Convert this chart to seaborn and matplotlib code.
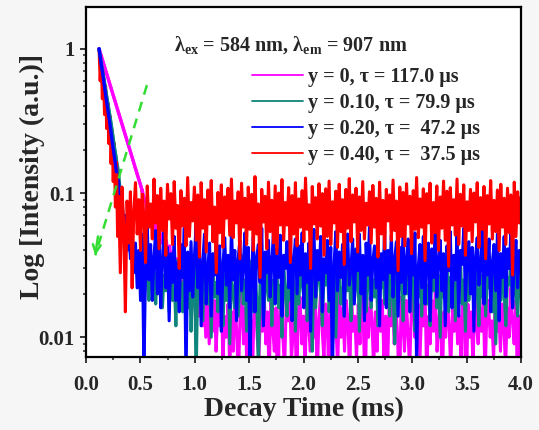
import numpy as np
import pandas as pd
import matplotlib
matplotlib.use("Agg")
import matplotlib.pyplot as plt
from matplotlib.ticker import MultipleLocator, LogLocator, NullFormatter, FixedFormatter, FixedLocator
import seaborn as sns

# ---- data (intensity in units of 1e-3 for the noisy tails) ----
labels = ["y = 0, τ = 117.0 μs",
          "y = 0.10, τ = 79.9 μs",
          "y = 0.20, τ =  47.2 μs",
          "y = 0.40, τ =  37.5 μs"]
colors = ["#ff00ff", "#10857d", "#0000ff", "#ff0000"]

# fast decay parts (time in ms, normalised intensity)
magenta_head_t = [0.12, 0.16, 0.20, 0.24, 0.28, 0.32, 0.36, 0.40, 0.44, 0.48, 0.52]
magenta_head_i = [1.0, 0.796, 0.634, 0.505, 0.402, 0.320, 0.255, 0.203, 0.161, 0.128, 0.102]
teal_head_t = [0.12, 0.14, 0.16, 0.18, 0.20, 0.22, 0.24, 0.26, 0.28]
teal_head_i = [1.0, 0.80, 0.65, 0.52, 0.42, 0.34, 0.27, 0.21, 0.17]
blue_head_t = [0.12, 0.14, 0.16, 0.18, 0.20, 0.22, 0.24, 0.26, 0.28]
blue_head_i = [1.0, 0.78, 0.62, 0.48, 0.38, 0.30, 0.23, 0.18, 0.14]
red_head_t = [0.12, 0.13, 0.14, 0.15, 0.16, 0.17, 0.18, 0.19, 0.20,
              0.21, 0.22, 0.23, 0.24, 0.25, 0.26, 0.27, 0.28, 0.29]
red_head_i = [1.0, 0.6, 0.85, 0.45, 0.7, 0.35, 0.55, 0.28, 0.42,
              0.22, 0.34, 0.16, 0.27, 0.12, 0.22, 0.08, 0.17, 0.05]

# background-level tails, 0.30 -> 4.0 ms (magenta 0.55 -> 4.0 ms)
red_tail_milli = [
    95, 28, 110, 60, 15, 88, 45, 102, 22, 75,
    118, 52, 90, 40, 105, 68, 33, 112, 58, 84,
    48, 125, 62, 96, 41, 108, 55, 88, 37, 115,
    66, 99, 44, 120, 57, 82, 30, 104, 59, 92,
    43, 128, 50, 86, 64, 110, 47, 97, 36, 118,
    57, 90, 39, 105, 61, 122, 46, 80, 28, 101,
    53, 114, 42, 94, 67, 108, 51, 125, 49, 88,
    62, 102, 35, 117, 58, 92, 44, 110, 56, 98,
    40, 130, 52, 84, 26, 106, 63, 95, 41, 119,
    54, 89, 45, 112, 38, 100, 60, 124, 47, 86,
    60, 109, 33, 96, 52, 118, 43, 91, 58, 104,
    46, 127, 56, 83, 30, 111, 61, 93, 48, 116,
    59, 99, 37, 107, 50, 121, 44, 87, 62, 103,
    42, 115, 54, 90, 32, 106, 57, 126, 46, 97,
    63, 108, 39, 94, 55, 120, 48, 85, 60, 102,
    45, 113, 58, 92, 36, 119, 52, 89, 41, 106,
    64, 97, 47, 123, 55, 88, 29, 110, 50, 101,
    43, 116, 61, 95, 38, 104, 56, 128, 49, 91,
    58, 107, 34, 99, 62, 117, 45, 86, 53, 112,
    40, 94, 57, 121, 47, 103, 31, 109, 60, 90,
    51, 125, 44, 98, 59, 114, 37, 87, 55, 106,
    46, 100, 63, 118, 42, 93, 56, 111, 35, 96,
    61, 122, 48, 89, 54, 105, 40, 115, 58, 92,
    44, 108, 53, 97, 27, 119, 50, 102, 62, 94]
blue_tail_milli = [
    120, 80, 95, 55, 70, 40, 62, 35, 50, 28,
    45, 22, 40, 18, 52, 6, 30, 58, 25, 44,
    18, 36, 55, 20, 48, 16, 35, 57, 22, 42,
    13, 38, 24, 50, 18, 33, 15, 44, 26, 57,
    5, 39, 21, 46, 19, 36, 60, 22, 41, 12,
    34, 52, 17, 30, 45, 14, 38, 27, 54, 20,
    43, 11, 32, 49, 23, 37, 16, 58, 25, 40,
    13, 35, 47, 21, 31, 53, 18, 42, 6, 29,
    50, 15, 36, 44, 24, 57, 12, 39, 28, 47,
    19, 33, 55, 17, 41, 26, 51, 14, 37, 30,
    46, 22, 59, 13, 34, 48, 20, 43, 27, 53,
    16, 38, 24, 45, 11, 31, 56, 19, 40, 25,
    50, 15, 35, 28, 47, 18, 42, 5, 33, 54,
    21, 39, 26, 44, 14, 36, 52, 23, 30, 48,
    17, 41, 29, 52, 20, 37, 13, 45, 27, 58,
    18, 34, 43, 22, 49, 12, 38, 25, 55, 16,
    40, 28, 51, 19, 35, 46, 14, 42, 24, 57,
    20, 33, 48, 15, 39, 27, 53, 6, 31, 44,
    22, 50, 17, 36, 45, 13, 41, 26, 56, 19,
    34, 47, 21, 38, 12, 43, 29, 54, 16, 37,
    25, 51, 14, 40, 32, 57, 18, 35, 46, 20,
    42, 11, 36, 49, 23, 31, 55, 17, 39, 27,
    48, 15, 33, 44, 21, 52, 13, 38, 26, 50,
    19, 41, 30, 54, 16, 35, 47, 22, 40, 28]
teal_tail_milli = [
    140, 100, 85, 60, 70, 45, 55, 38, 48, 32,
    40, 28, 36, 24, 33, 20, 30, 25, 18, 28,
    22, 32, 17, 28, 20, 34, 16, 27, 21, 30,
    15, 30, 18, 26, 12, 34, 19, 24, 15, 29,
    27, 16, 31, 11, 23, 36, 5, 25, 20, 29,
    13, 33, 21, 17, 28, 10, 32, 19, 24, 15,
    35, 22, 12, 27, 18, 30, 9, 26, 21, 16,
    31, 14, 23, 37, 17, 25, 11, 29, 20, 34,
    15, 27, 19, 6, 24, 32, 13, 22, 28, 18,
    36, 12, 25, 20, 30, 16, 23, 10, 33, 21,
    14, 29, 18, 35, 22, 11, 27, 17, 31, 24,
    19, 34, 13, 26, 21, 8, 30, 16, 25, 37,
    20, 12, 28, 23, 33, 15, 24, 18, 31, 10,
    26, 35, 17, 22, 14, 29, 21, 32, 13, 27,
    18, 24, 36, 11, 28, 20, 30, 15, 23, 34,
    16, 25, 19, 31, 12, 27, 22, 33, 17, 26,
    29, 14, 35, 21, 9, 26, 18, 32, 23, 13,
    30, 20, 27, 15, 34, 22, 11, 28, 19, 36,
    14, 25, 31, 17, 23, 12, 29, 21, 33, 16,
    27, 10, 32, 19, 24, 35, 15, 26, 20, 30,
    13, 28, 22, 37, 17, 25, 11, 31, 18, 24,
    33, 16, 29, 21, 12, 27, 19, 34, 14, 26,
    22, 31, 15, 28, 9, 24, 30, 18, 35, 20,
    12, 26, 23, 32, 16, 29, 21, 14, 27, 19]
magenta_tail_milli = [
    85, 70, 80, 62, 72, 56, 65, 50, 58, 45,
    52, 40, 47, 36, 43, 32, 39, 29, 35, 26,
    32, 24, 29, 21, 27, 19, 25, 17, 23, 15,
    21, 14, 19, 12, 18, 10, 17, 9, 16, 11,
    18, 8, 15, 12, 20, 7, 14, 10, 17, 6,
    15, 8, 19, 11, 5, 14, 21, 9, 16, 6,
    12, 18, 4, 13, 20, 10, 7, 17, 11, 22,
    9, 15, 5, 19, 12, 8, 16, 3, 14, 20,
    10, 6, 18, 13, 21, 7, 11, 17, 4, 15,
    19, 9, 14, 6, 22, 12, 8, 16, 10, 18,
    5, 13, 20, 11, 7, 17, 14, 3, 19, 9,
    15, 12, 6, 21, 10, 16, 8, 18, 13, 5,
    20, 11, 14, 7, 17, 9, 22, 12, 4, 16,
    10, 19, 13, 6, 15, 8, 21, 11, 18, 7,
    14, 5, 17, 12, 20, 9, 16, 10, 3, 19,
    13, 8, 18, 11, 6, 15, 22, 10, 14, 17,
    7, 16, 12, 20, 5, 14, 9, 18, 11, 21,
    8, 13, 17, 4, 15, 10, 19, 12, 6, 16,
    11, 20, 9, 14, 7, 18, 13, 3, 17, 10,
    15, 6, 21, 12, 9, 16, 11, 19, 5, 14,
    18, 10, 13, 7, 20, 11, 15, 8, 17, 12,
    6, 16, 10, 22, 13, 9, 18, 4, 14, 11]

# guide arrow (time, intensity): tail -> head
arrow_start = (0.56, 0.56)
arrow_end = (0.085, 0.037)


def build_frame():
    tail_t = np.linspace(0.30, 4.0, len(red_tail_milli))
    mag_t = np.linspace(0.55, 4.0, len(magenta_tail_milli))
    parts = [
        (labels[0], magenta_head_t, magenta_head_i, mag_t, magenta_tail_milli),
        (labels[1], teal_head_t, teal_head_i, tail_t, teal_tail_milli),
        (labels[2], blue_head_t, blue_head_i, tail_t, blue_tail_milli),
        (labels[3], red_head_t, red_head_i, tail_t, red_tail_milli),
    ]
    frames = []
    for name, ht, hi, tt, ti in parts:
        t = np.concatenate([ht, tt])
        i = np.concatenate([hi, np.array(ti) / 1000.0])
        frames.append(pd.DataFrame({"time": t, "intensity": i, "sample": name}))
    return pd.concat(frames, ignore_index=True)


df = build_frame()

sns.set_style("ticks")
plt.rcParams["font.family"] = ["Liberation Serif", "DejaVu Serif"]
plt.rcParams["font.weight"] = "bold"
plt.rcParams["axes.labelweight"] = "bold"

fig = plt.figure(figsize=(5.39, 4.3), dpi=100, facecolor="#f6f6f6")
ax = fig.add_axes([0.1596, 0.1698, 0.807, 0.814])
ax.set_facecolor("white")

sns.lineplot(data=df, x="time", y="intensity", hue="sample", hue_order=labels,
             palette=colors, estimator=None, sort=False, linewidth=2.2, ax=ax)
# the fast decays look thicker in the original
heads = df[(df["time"] < 0.53) & ~((df["sample"] != labels[0]) & (df["time"] >= 0.29))]
sns.lineplot(data=heads[heads["sample"] != labels[3]], x="time", y="intensity",
             hue="sample", hue_order=labels[:3], palette=colors[:3], estimator=None,
             sort=False, linewidth=2.4, legend=False, ax=ax)

ax.set_yscale("log")
ax.set_xlim(0, 4.0)
ax.set_ylim(0.0073, 1.95)

# green dashed guide arrow
ax.plot([arrow_start[0], arrow_end[0]], [arrow_start[1], arrow_end[1]],
        color="#33dd33", lw=1.8, ls=(0, (4, 3)))
ax.annotate("", xy=arrow_end, xytext=(0.11, 0.05),
            arrowprops=dict(arrowstyle="->", color="#33dd33", lw=1.8,
                            mutation_scale=14, shrinkA=0, shrinkB=0))

ax.text(0.471, 0.874, "λ$_{\\mathregular{ex}}$ = 584 nm, λ$_{\\mathregular{em}}$ = 907 nm",
        transform=ax.transAxes, ha="center", va="baseline", fontsize=14.5,
        fontweight="bold")

leg = ax.legend(loc="upper left", bbox_to_anchor=(0.382, 0.828), frameon=False,
                fontsize=14.5, handlelength=2.5, handletextpad=0.25, labelspacing=0.3,
                borderpad=0, borderaxespad=0)
for line in leg.get_lines():
    line.set_linewidth(1.3)

# ticks and frame
ax.xaxis.set_major_locator(MultipleLocator(0.5))
ax.xaxis.set_minor_locator(MultipleLocator(0.25))
ax.yaxis.set_major_locator(FixedLocator([0.01, 0.1, 1]))
ax.yaxis.set_major_formatter(FixedFormatter(["0.01", "0.1", "1"]))
ax.yaxis.set_minor_locator(LogLocator(base=10, subs=np.arange(2, 10)))
ax.yaxis.set_minor_formatter(NullFormatter())
ax.tick_params(which="major", direction="out", length=4, width=1.3, labelsize=15)
ax.tick_params(axis="x", which="major", pad=9)
ax.tick_params(axis="y", which="major", pad=4)
ax.tick_params(which="minor", direction="out", length=2.5, width=1.1)
ax.tick_params(top=False, right=False)
for lab in ax.get_xticklabels() + ax.get_yticklabels():
    lab.set_fontweight("bold")
for sp in ax.spines.values():
    sp.set_visible(True)
    sp.set_linewidth(1.6)
    sp.set_color("black")

ax.set_xlabel("Decay Time (ms)", fontsize=20, fontweight="bold")
ax.set_ylabel("Log [Intensity (a.u.)]", fontsize=20, fontweight="bold")
ax.xaxis.set_label_coords(0.5, -0.115)
ax.yaxis.set_label_coords(-0.095, 0.517)

fig.savefig("out.png", dpi=100, facecolor=fig.get_facecolor())
